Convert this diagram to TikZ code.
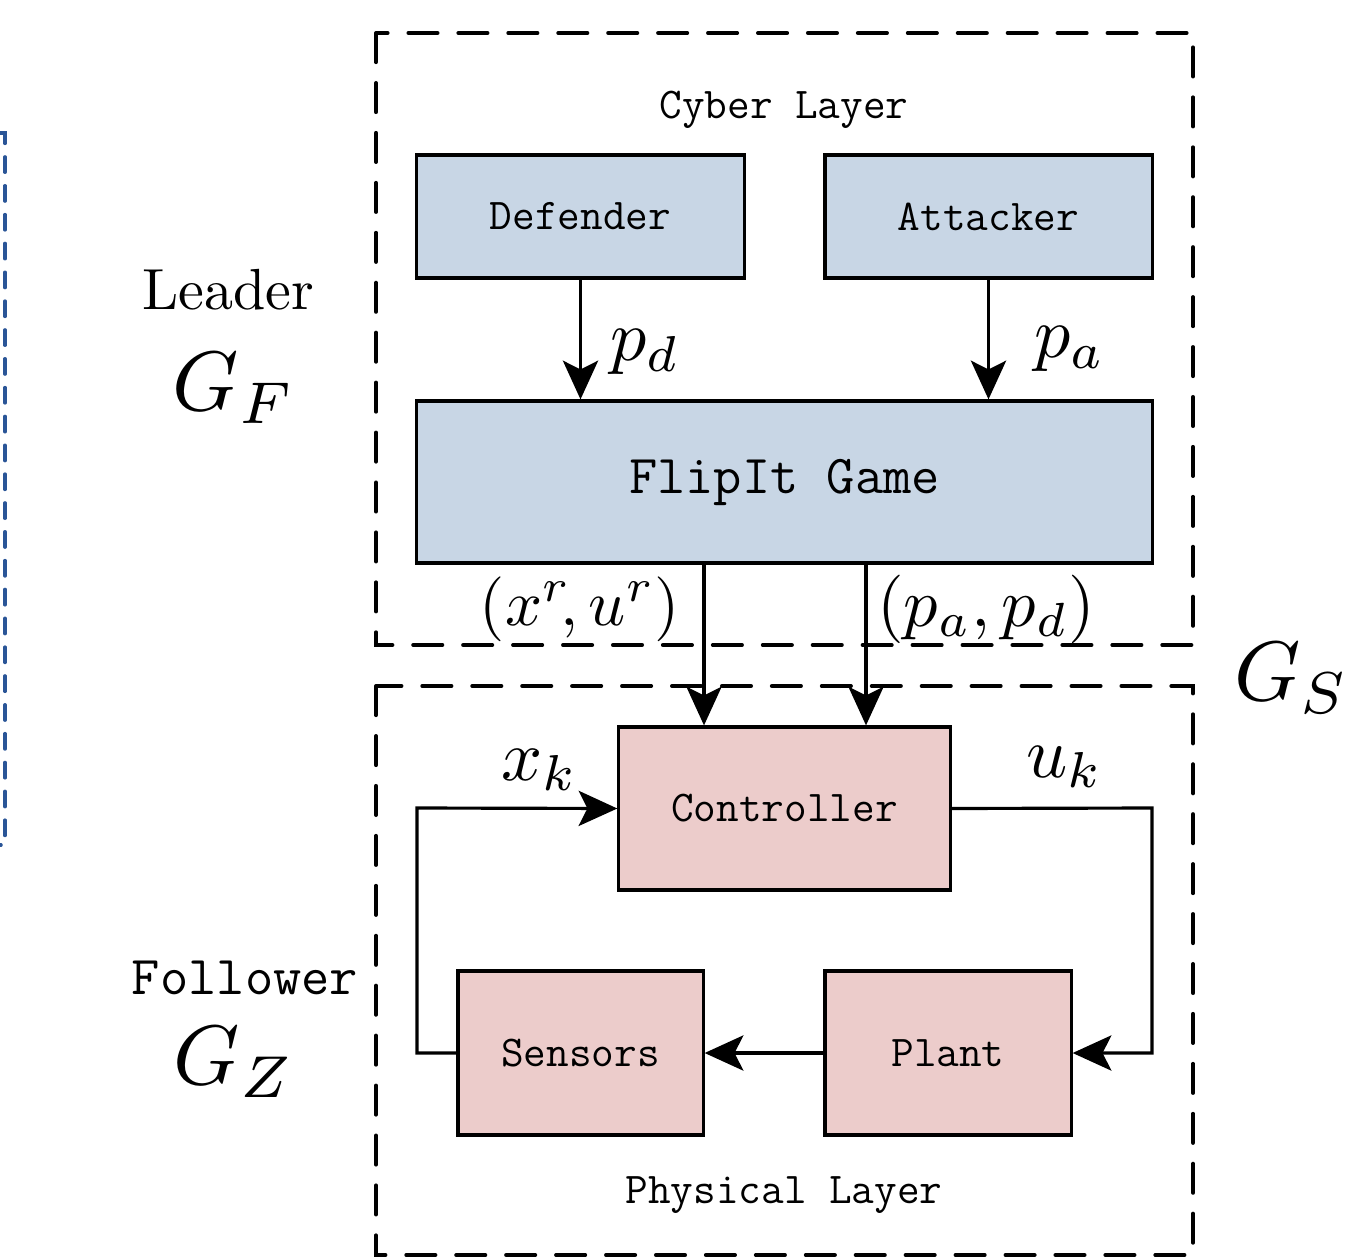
\documentclass[tikz,border=0pt]{standalone}
\usepackage{amsmath}
\usetikzlibrary{arrows.meta}
\definecolor{cyberfill}{RGB}{200,214,229}
\definecolor{physfill}{RGB}{236,204,203}
\definecolor{bracketblue}{RGB}{42,85,151}
\begin{document}
\begin{tikzpicture}[x=0.01cm,y=-0.01cm,
  layerbox/.style={draw,line width=1.1pt,line cap=round,dash pattern=on 8.3pt off 5.9pt},
  cyberbox/.style={draw,line width=0.9pt,fill=cyberfill,inner sep=0pt},
  physbox/.style={draw,line width=0.9pt,fill=physfill,inner sep=0pt},
  boxtext/.style={font=\fontsize{12.5pt}{14pt}\ttfamily},
  bigtext/.style={font=\fontsize{15.6pt}{18pt}\ttfamily},
  flow/.style={line width=0.9pt,-{Stealth[length=11pt,width=10pt,inset=2.5pt]}},
  mlabel/.style={inner sep=0pt,scale=2.05},
  glabel/.style={inner sep=0pt,scale=2.4}]
\useasboundingbox (0,0) rectangle (1358,1258);

% layer frames
\draw[layerbox] (376,33) rectangle (1193,645);
\draw[layerbox] (376,686) rectangle (1193,1255);
\node[boxtext] (cybertitle) at (784,110) {Cyber Layer};
\node[boxtext] (phystitle) at (784,1195) {Physical Layer};

% bracket on the far left
\draw[bracketblue,line width=0.95pt,line cap=round,dash pattern=on 4.4pt off 3.8pt] (0,133) -- (5,133) -- (5,845) -- (0,845);

% cyber layer blocks
\node[cyberbox,boxtext,minimum width=3.27cm,minimum height=1.23cm] (def) at (580.5,216.5) {Defender};
\node[cyberbox,boxtext,minimum width=3.27cm,minimum height=1.23cm] (att) at (988.5,216.5) {Attacker};
\node[cyberbox,bigtext,minimum width=7.35cm,minimum height=1.62cm] (game) at (784.5,482) {FlipIt Game};

% physical layer blocks
\node[physbox,boxtext,minimum width=3.31cm,minimum height=1.63cm] (ctrl) at (784.5,808.5) {Controller};
\node[physbox,boxtext,minimum width=2.45cm,minimum height=1.64cm] (sens) at (580.5,1053) {Sensors};
\node[physbox,boxtext,minimum width=2.46cm,minimum height=1.64cm] (plant) at (948,1053) {Plant};

% strategies into the game
\draw[flow] (def.south) -- (game.north -| def.south);
\draw[flow] (att.south) -- (game.north -| att.south);
\node[mlabel] (pd) at (645,352) {$p_d$};
\node[mlabel] (pa) at (1070,349) {$p_a$};

% game outputs to the controller
\coordinate (g1) at (704,563);
\coordinate (g2) at (866,563);
\draw[flow] (g1) -- (g1 |- ctrl.north);
\draw[flow] (g2) -- (g2 |- ctrl.north);
\node[mlabel,scale=0.9] (xr) at (580,609) {$(x^{r}\!,u^{r})$};
\node[mlabel,scale=0.95] (pp) at (986,609) {$(p_a,p_d)$};

% feedback loop
\coordinate (lc) at (417,808);
\coordinate (rc) at (1152,808);
\draw[flow] (sens.west) -| (lc) -- (ctrl.west);
\draw[flow] (ctrl.east) -- (rc) |- (plant.east);
\draw[flow] (plant.west) -- (sens.east);
\node[mlabel] (xk) at (540,770) {$x_k$};
\node[mlabel] (uk) at (1065,767) {$u_k$};

% game roles
\node[scale=1.65] (leader) at (228,290) {Leader};
\node[glabel] (gf) at (234,388) {$G_F$};
\node[bigtext] (follower) at (245,978) {Follower};
\node[glabel] (gz) at (234,1062) {$G_Z$};
\node[glabel] (gs) at (1292,678) {$G_S$};
\end{tikzpicture}
\end{document}
